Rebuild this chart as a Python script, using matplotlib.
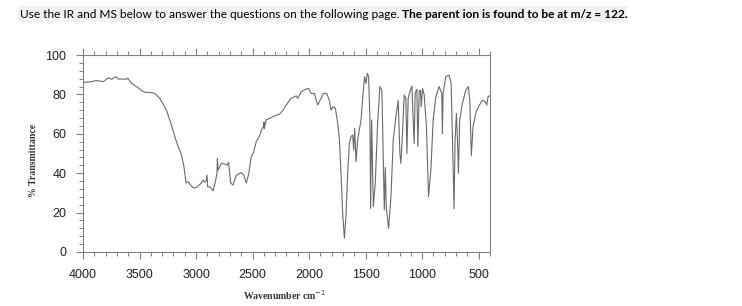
import matplotlib
matplotlib.use('Agg')
import matplotlib.pyplot as plt
from matplotlib.patches import Rectangle
from matplotlib.ticker import MultipleLocator

# IR spectrum (wavenumber in cm-1, % transmittance)
wavenumber = [4000, 3980, 3930, 3880, 3820, 3777, 3747, 3709, 3690, 3650,
              3615, 3605, 3570, 3512, 3468, 3440, 3409, 3365, 3321, 3262,
              3218, 3174, 3129, 3109, 3097, 3088, 3071, 3041, 3020, 2997,
              2953, 2938, 2924, 2910, 2903, 2897, 2873, 2850, 2826, 2815,
              2811, 2805, 2776, 2747, 2723, 2712, 2694, 2674, 2644, 2600,
              2577, 2556, 2533, 2512, 2492, 2468, 2438, 2415, 2403, 2400,
              2397, 2380, 2321, 2262, 2230, 2203, 2159, 2115, 2100, 2070,
              2027, 2003, 1983, 1953, 1924, 1903, 1874, 1844, 1821, 1806,
              1791, 1768, 1747, 1732, 1718, 1703, 1688, 1674, 1659, 1644,
              1630, 1615, 1606, 1597, 1585, 1571, 1541, 1521, 1509, 1497,
              1485, 1474, 1462, 1456, 1447, 1432, 1415, 1394, 1374, 1356,
              1342, 1335, 1326, 1318, 1297, 1276, 1256, 1232, 1212, 1197,
              1188, 1174, 1159, 1144, 1135, 1124, 1106, 1091, 1079, 1071,
              1062, 1047, 1038, 1026, 1015, 1009, 997, 982, 962, 944,
              923, 903, 879, 850, 826, 821, 815, 791, 762, 744,
              733, 718, 709, 697, 688, 679, 668, 644, 615, 591,
              579, 565, 550, 523, 494, 465, 441, 429, 417, 405]
transmittance = [86.0, 86.1, 86.5, 87.0, 86.5, 88.5, 87.7, 89.0, 87.8, 87.8,
                 87.7, 88.3, 85.6, 83.4, 81.4, 81.0, 81.0, 80.5, 78.0, 72.0,
                 64.5, 56.0, 49.2, 44.0, 39.0, 35.0, 35.7, 33.5, 32.5, 32.8,
                 35.0, 36.5, 35.4, 36.0, 39.0, 33.0, 33.0, 31.0, 36.5, 40.0,
                 47.5, 41.6, 45.0, 44.7, 44.2, 45.5, 35.0, 34.0, 39.0, 40.3,
                 39.0, 35.0, 40.0, 48.4, 50.5, 56.0, 59.0, 62.8, 63.5, 66.0,
                 62.5, 67.0, 68.7, 70.0, 72.0, 74.6, 78.0, 79.2, 78.0, 81.4,
                 82.7, 83.0, 80.5, 80.5, 74.6, 77.0, 80.5, 80.5, 77.0, 72.0,
                 73.7, 73.0, 65.3, 57.0, 40.0, 19.6, 7.0, 18.0, 40.0, 55.0,
                 58.5, 59.4, 51.8, 62.8, 45.8, 56.8, 67.0, 82.0, 89.0, 85.6,
                 90.7, 89.0, 67.0, 22.0, 67.0, 23.0, 35.0, 65.0, 84.0, 82.0,
                 43.0, 21.3, 43.0, 23.0, 12.0, 28.0, 56.8, 68.7, 77.0, 50.0,
                 45.0, 60.0, 79.7, 78.0, 50.0, 78.0, 82.0, 84.3, 67.0, 55.0,
                 80.5, 82.6, 53.5, 82.0, 82.0, 73.7, 83.0, 79.7, 63.6, 28.0,
                 41.6, 67.0, 78.8, 84.0, 80.5, 60.0, 80.5, 89.0, 89.8, 85.6,
                 60.0, 22.0, 56.8, 70.4, 56.8, 40.0, 67.0, 75.5, 82.0, 84.0,
                 77.0, 49.0, 63.6, 71.2, 74.6, 77.0, 76.3, 74.6, 79.0, 79.2]

header = "Use the IR and MS below to answer the questions on the following page. "
header_bold = "The parent ion is found to be at m/z = 122."

W, H = 742, 306
fig = plt.figure(figsize=(W / 100, H / 100), dpi=100)
ax = fig.add_axes([83 / W, 1 - 252 / H, (490 - 83) / W, (252 - 55) / H])

ax.plot(wavenumber, transmittance, color='#6a6a6a', lw=0.8)
ax.set_xlim(4000, 400)
ax.set_ylim(0, 100)

ax.xaxis.set_major_locator(MultipleLocator(500))
ax.xaxis.set_minor_locator(MultipleLocator(100))
ax.yaxis.set_major_locator(MultipleLocator(20))
ax.yaxis.set_minor_locator(MultipleLocator(4))
ax.set_xticks([4000, 3500, 3000, 2500, 2000, 1500, 1000, 500])

for s in ax.spines.values():
    s.set_color('#808080')
    s.set_linewidth(0.8)
ax.tick_params(axis='x', which='both', direction='out', top=True, bottom=True,
               colors='#808080', labelcolor='#222222', labelsize=9,
               labelfontfamily='Liberation Sans', pad=7)
ax.tick_params(axis='x', which='major', length=5, width=0.8)
ax.tick_params(axis='x', which='minor', length=3, width=0.7)
ax.tick_params(axis='y', which='both', direction='out', left=True, right=False,
               colors='#808080', labelcolor='#222222', labelsize=9,
               labelfontfamily='Liberation Sans', pad=7)
ax.tick_params(axis='y', which='major', length=5, width=0.8)
ax.tick_params(axis='y', which='minor', length=3, width=0.7)

fig.text(285 / W, 1 - 295 / H, 'Wavenumber cm$^{-1}$', ha='center', va='center',
         family='Liberation Serif', weight='bold', fontsize=7, color='#333333')
fig.text(33 / W, 1 - 160 / H, '% Transmittance', ha='center', va='center',
         rotation=90, family='Liberation Serif', weight='bold', fontsize=7,
         color='#333333')

# light grey highlight behind the header line
fig.patches.append(Rectangle((18 / W, 1 - 22 / H), (627 - 18) / W, 16 / H,
                             transform=fig.transFigure, fc='#f2f2f2', ec='none',
                             zorder=-1))
t1 = fig.text(20 / W, 1 - 15 / H, header, ha='left', va='center',
              family='Lato', fontsize=8.6, color='black')
ax.annotate(header_bold, xy=(1, 0), xycoords=t1, ha='left', va='bottom',
            family='Lato', weight='bold', fontsize=8.6, color='black',
            annotation_clip=False)

fig.savefig('out.png', dpi=100)
